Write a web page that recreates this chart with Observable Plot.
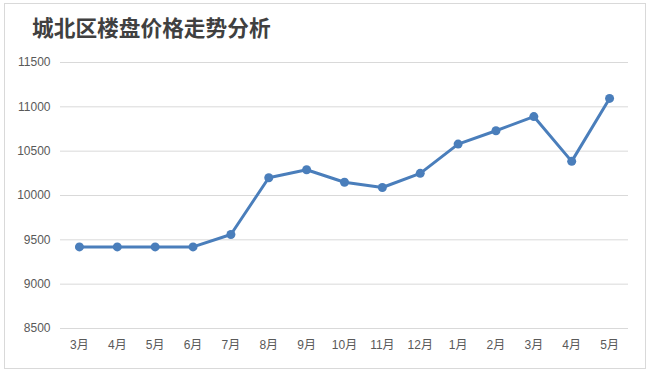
<!DOCTYPE html>
<html><head><meta charset="utf-8">
<script src="https://cdn.jsdelivr.net/npm/d3@7"></script>
<script src="https://cdn.jsdelivr.net/npm/@observablehq/plot@0.6"></script>
<style>
body{margin:0;background:#fff;width:650px;height:373px;position:relative;overflow:hidden;}
#frame{position:absolute;left:4px;top:3px;width:642px;height:366px;border:1px solid #d9d9d9;box-sizing:border-box;}
#title{position:absolute;left:32px;top:16px;font-weight:bold;font-size:21.7px;line-height:1;font-family:"Noto Sans CJK SC","Microsoft YaHei",sans-serif;color:#404040;white-space:nowrap;}
#chart{position:absolute;left:0;top:50px;}
</style>
</head><body>
<div id="frame"></div>
<div id="title">城北区楼盘价格走势分析</div>
<div id="chart"></div>
<script>
const title = "城北区楼盘价格走势分析";
const months = ["3月","4月","5月","6月","7月","8月","9月","10月","11月","12月","1月","2月","3月","4月","5月"];
const prices = [9420, 9420, 9420, 9420, 9560, 10200, 10290, 10150, 10090, 10250, 10580, 10730, 10890, 10385, 11095];
const yTicks = [8500, 9000, 9500, 10000, 10500, 11000, 11500];

const data = months.map((m, i) => ({i, month: m, price: prices[i]}));

const chart = Plot.plot({
  width: 650,
  height: 315,
  marginLeft: 60,
  marginRight: 22,
  marginTop: 12,
  marginBottom: 37,
  style: {fontFamily: '"Liberation Sans","Noto Sans CJK SC",sans-serif', fontSize: "12px", color: "#595959", background: "transparent"},
  x: {type: "point", domain: d3.range(months.length), padding: 0.5, round: false, tickSize: 0, tickPadding: 12, tickFormat: i => months[i], label: null},
  y: {domain: [8500, 11500], ticks: yTicks, tickSize: 0, tickPadding: 10, tickFormat: d => String(d), label: null},
  marks: [
    Plot.ruleY(yTicks, {stroke: "#d9d9d9", strokeWidth: 1}),
    Plot.line(data, {x: "i", y: "price", stroke: "#4a7ebb", strokeWidth: 3, strokeLinejoin: "round"}),
    Plot.dot(data, {x: "i", y: "price", r: 4.5, fill: "#4a7ebb", stroke: "none"})
  ]
});
document.getElementById("chart").appendChild(chart);
</script>
</body></html>
